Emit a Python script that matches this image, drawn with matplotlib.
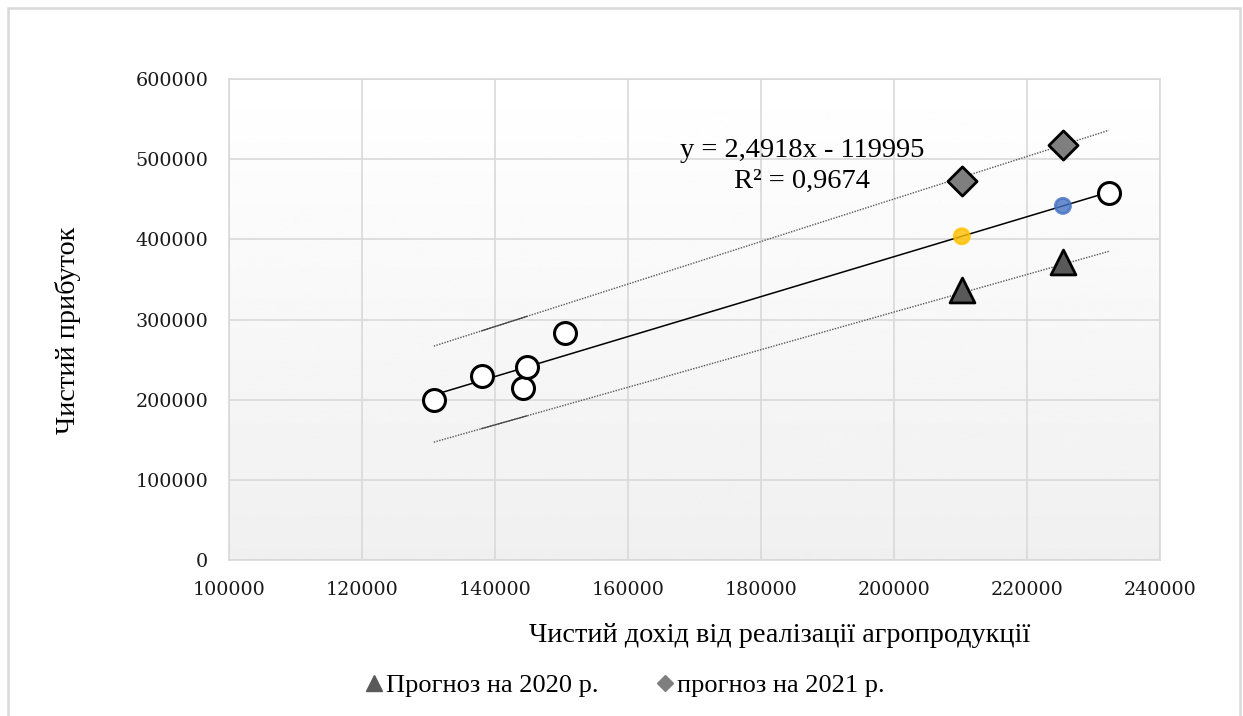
import numpy as np
import matplotlib.pyplot as plt
from matplotlib.patches import Rectangle
from matplotlib.lines import Line2D

# Фактичні дані
income = [130800, 138000, 144200, 144800, 150500, 232300]
profit = [199500, 230000, 214000, 240600, 283000, 457600]

# Розрахункові точки на лінії тренду
trend_x = [210200, 225400]
trend_y = [403800, 441700]
trend_colors = ['#ffc000', '#4472c4']

# Прогнози
forecast_x = [210200, 225400]
forecast_2020 = [336600, 371600]
forecast_2021 = [472600, 517500]

# Межі довірчого інтервалу
bound_x = [130800, 138000, 144200, 144800, 150500, 210200, 225400, 232300]
upper = [266800, 285900, 302300, 303900, 319000, 477400, 517700, 536000]
lower = [147000, 163900, 178400, 179800, 193200, 333200, 368800, 385000]

slope, intercept = 2.4918, -119995

serif = 'Liberation Serif'
tick_font = 'DejaVu Serif'

fig = plt.figure(figsize=(12.43, 7.16), dpi=100)
ax = fig.add_axes([229 / 1243, 156 / 716, 931 / 1243, 481 / 716])

# рамка діаграми
fig.patches.append(Rectangle((8 / 1243, -0.05), 1232 / 1243, 1.05 - 8 / 716,
                             transform=fig.transFigure, fill=False,
                             edgecolor='#d9d9d9', linewidth=1.8))

# градієнтний фон області побудови
grad = np.linspace(1.0, 0.94, 256).reshape(-1, 1)
ax.imshow(grad, extent=[0, 1, 0, 1], transform=ax.transAxes, cmap='gray',
          vmin=0, vmax=1, aspect='auto', zorder=0)

ax.set_xlim(100000, 240000)
ax.set_ylim(0, 600000)
ax.set_xticks(np.arange(100000, 240001, 20000))
ax.set_yticks(np.arange(0, 600001, 100000))
ax.grid(True, color='#d9d9d9', linewidth=1.2, zorder=1)
ax.tick_params(length=0, labelsize=13.8, colors='#1a1a1a')
ax.tick_params(axis='y', pad=15)
ax.tick_params(axis='x', pad=15)
for lbl in ax.get_xticklabels() + ax.get_yticklabels():
    lbl.set_fontfamily(tick_font)
for s in ax.spines.values():
    s.set_color('#d9d9d9')
    s.set_linewidth(1.2)

# межі інтервалу
ax.plot(bound_x, upper, color='#555555', linestyle=(0, (1, 1)), linewidth=1.0, zorder=2)
ax.plot(bound_x, lower, color='#555555', linestyle=(0, (1, 1)), linewidth=1.0, zorder=2)
ax.plot(bound_x[1:4], upper[1:4], color='#444444', linewidth=0.9, zorder=2)
ax.plot(bound_x[1:4], lower[1:4], color='#444444', linewidth=0.9, zorder=2)

# лінія тренду
tx = np.array([min(income), max(income)])
ax.plot(tx, slope * tx + intercept, color='black', linewidth=1.1, zorder=3)

ax.scatter(income, profit, s=250, facecolor='white', edgecolor='black',
           linewidth=2.2, zorder=4)
ax.scatter(trend_x, trend_y, s=120, c=trend_colors, edgecolor=trend_colors,
           alpha=0.8, linewidth=2, zorder=4)
ax.scatter(forecast_x, forecast_2020, s=320, marker='^', color='#595959',
           edgecolor='black', linewidth=2, zorder=4)
ax.scatter(forecast_x, forecast_2021, s=220, marker='D', color='#7f7f7f',
           edgecolor='black', linewidth=2, zorder=4)

ax.text(802 / 1243, 1 - 166 / 716, 'y = 2,4918x - 119995\nR² = 0,9674',
        transform=fig.transFigure, ha='center', va='center', fontsize=20.5,
        family=serif, linespacing=1.3, zorder=5)

fig.text(68 / 1243, 1 - 330 / 716, 'Чистий прибуток', rotation=90,
         ha='center', va='center', fontsize=20.3, family=serif)
fig.text(780 / 1243, 1 - 635 / 716, 'Чистий дохід від реалізації агропродукції',
         ha='center', va='center', fontsize=20.3, family=serif)

handles = [Line2D([], [], marker='^', color='#595959', linestyle='none',
                  markersize=11),
           Line2D([], [], marker='D', color='#7f7f7f', linestyle='none',
                  markersize=8)]
fig.legend(handles, ['Прогноз на 2020 р.', 'прогноз на 2021 р.'],
           loc='center', bbox_to_anchor=(624 / 1243, 1 - 685 / 716),
           ncol=2, frameon=False, prop={'family': serif, 'size': 19},
           handletextpad=0.05, columnspacing=2.1, handlelength=0.8)

fig.savefig('out.png', dpi=100)
